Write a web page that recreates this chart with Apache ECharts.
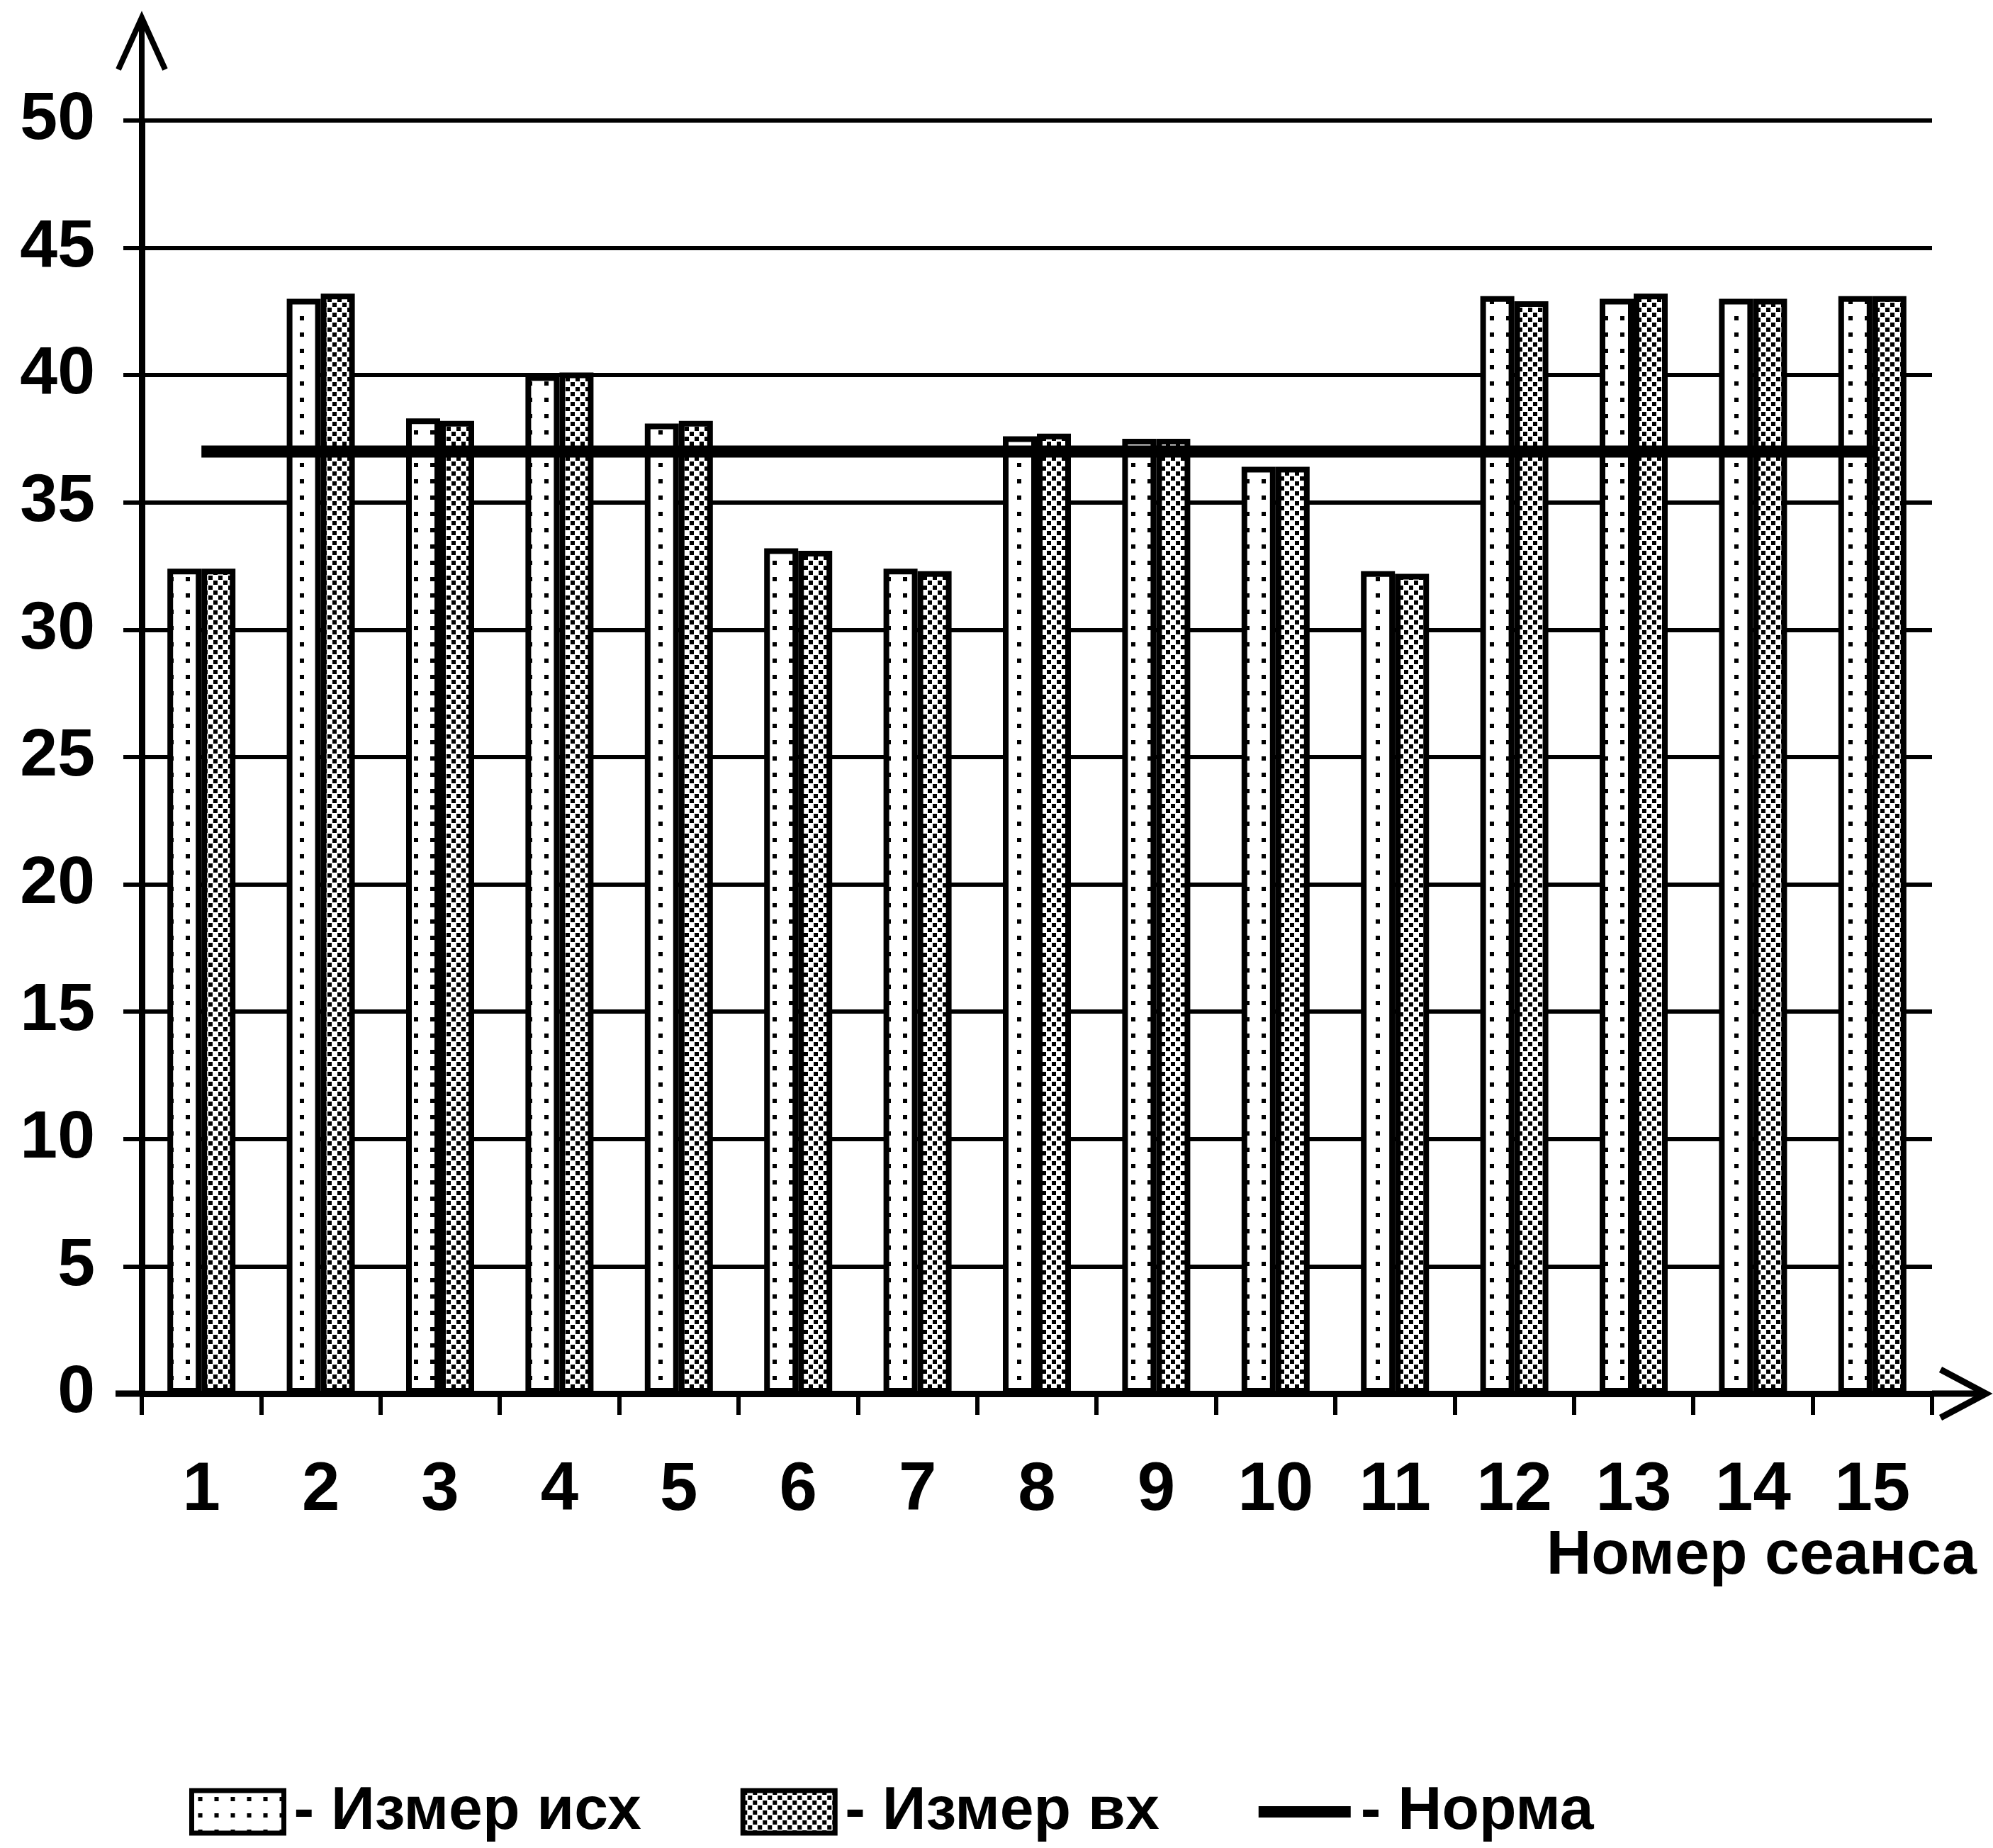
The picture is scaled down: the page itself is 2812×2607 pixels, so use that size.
<!DOCTYPE html>
<html>
<head>
<meta charset="utf-8">
<script src="https://cdn.jsdelivr.net/npm/echarts@6/dist/echarts.min.js"></script>
<style>
html,body{margin:0;padding:0;background:#fff;}
#chart{width:2812px;height:2607px;}
</style>
</head>
<body>
<div id="chart"></div>
<script>
// ---- data ----
const categories = ['1','2','3','4','5','6','7','8','9','10','11','12','13','14','15'];
const izmerIsx = [32.4, 43.0, 38.3, 40.0, 38.1, 33.2, 32.4, 37.6, 37.5, 36.4, 32.3, 43.1, 43.0, 43.0, 43.1];
const izmerVx  = [32.4, 43.2, 38.2, 40.1, 38.2, 33.1, 32.3, 37.7, 37.5, 36.4, 32.2, 42.9, 43.2, 43.0, 43.1];
const norma    = [37, 37, 37, 37, 37, 37, 37, 37, 37, 37, 37, 37, 37, 37, 37];
const yTicks   = [0, 5, 10, 15, 20, 25, 30, 35, 40, 45, 50];
const seriesNames = ['Измер исх', 'Измер вх', 'Норма'];
const xAxisName = 'Номер сеанса';

// ---- patterns ----
function makePattern(size, dots, d) {
  const c = document.createElement('canvas');
  c.width = size; c.height = size;
  const ctx = c.getContext('2d');
  ctx.fillStyle = '#fff';
  ctx.fillRect(0, 0, size, size);
  ctx.fillStyle = '#000';
  dots.forEach(p => ctx.fillRect(p[0], p[1], d, d));
  return c;
}
const patIsx = makePattern(23, [[9, 9]], 6);
const patVx = makePattern(14, [[0, 0], [7, 7]], 6);

const FONT = '"Liberation Sans", Arial, sans-serif';
const grid = { left: 200, right: 86, top: 170, bottom: 641, containLabel: false, outerBoundsMode: 'none' };
const W = 2812, H = 2607;
const axisX = grid.left, axisY = H - grid.bottom, gridRight = W - grid.right;

const chart = echarts.init(document.getElementById('chart'), null, { renderer: 'canvas' });
chart.setOption({
  backgroundColor: '#fff',
  animation: false,
  grid: grid,
  title: {
    text: xAxisName,
    right: 23,
    top: 2152,
    padding: 0,
    textStyle: { fontSize: 88, fontWeight: 'bold', color: '#000', fontFamily: FONT }
  },
  legend: {
    data: [
      { name: seriesNames[0], icon: 'rect', itemStyle: { borderColor: '#000', borderWidth: 7 } },
      { name: seriesNames[1], icon: 'rect', itemStyle: { borderColor: '#000', borderWidth: 7 } },
      { name: seriesNames[2], icon: 'path://M0,0H140V17H0Z', itemStyle: { borderWidth: 0 } }
    ],
    left: 262,
    top: 2508,
    itemWidth: 130,
    itemHeight: 60,
    itemGap: 140,
    selectedMode: false,
    formatter: '{g|}- {name}',
    textStyle: { fontSize: 86, fontWeight: 'bold', color: '#000', fontFamily: FONT,
      rich: { g: { width: 9 } } }
  },
  xAxis: {
    type: 'category',
    data: categories,
    axisLine: { show: true, lineStyle: { color: '#000', width: 9 } },
    axisTick: { show: true, length: 30, lineStyle: { color: '#000', width: 6 } },
    axisLabel: { fontSize: 96, fontWeight: 'bold', color: '#000', fontFamily: FONT, margin: 90, interval: 0 },
    splitLine: { show: false }
  },
  yAxis: {
    type: 'value',
    min: yTicks[0],
    max: yTicks[yTicks.length - 1],
    interval: yTicks[1] - yTicks[0],
    axisLine: { show: true, lineStyle: { color: '#000', width: 9 } },
    axisTick: { show: true, length: 26, lineStyle: { color: '#000', width: 6 } },
    axisLabel: { fontSize: 95, fontWeight: 'bold', color: '#000', fontFamily: FONT, margin: 66 },
    splitLine: { show: true, lineStyle: { color: '#000', width: 6 } }
  },
  series: [
    {
      name: seriesNames[0], type: 'bar', data: izmerIsx,
      barWidth: 48, barGap: '0%',
      itemStyle: { color: { image: patIsx, repeat: 'repeat' }, borderColor: '#000', borderWidth: 8 }
    },
    {
      name: seriesNames[1], type: 'bar', data: izmerVx,
      barWidth: 48, barGap: '0%',
      itemStyle: { color: { image: patVx, repeat: 'repeat' }, borderColor: '#000', borderWidth: 8 }
    },
    {
      name: seriesNames[2], type: 'line', data: norma,
      symbol: 'none', z: 5,
      lineStyle: { color: '#000', width: 17 },
      itemStyle: { color: '#000' }
    }
  ],
  graphic: [
    // y-axis extension with open arrow
    { type: 'polyline', shape: { points: [[axisX, grid.top], [axisX, 25]] }, style: { stroke: '#000', lineWidth: 8, fill: null } },
    { type: 'polyline', shape: { points: [[axisX - 33, 98], [axisX, 25], [axisX + 33, 98]] }, style: { stroke: '#000', lineWidth: 8, fill: null } },
    // x-axis extension with open arrow
    { type: 'polyline', shape: { points: [[163, axisY], [axisX, axisY]] }, style: { stroke: '#000', lineWidth: 9, fill: null } },
    { type: 'polyline', shape: { points: [[gridRight, axisY], [2802, axisY]] }, style: { stroke: '#000', lineWidth: 9, fill: null } },
    { type: 'polyline', shape: { points: [[2738, axisY - 34], [2802, axisY], [2738, axisY + 34]] }, style: { stroke: '#000', lineWidth: 9, fill: null } }
  ]
});
</script>
</body>
</html>
